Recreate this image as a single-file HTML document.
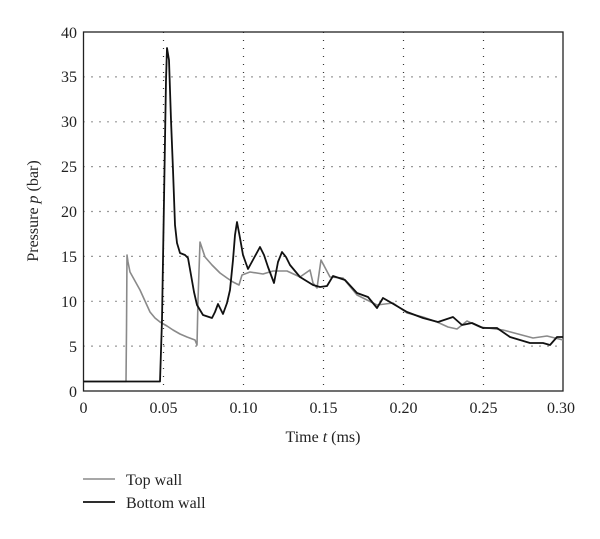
<!DOCTYPE html>
<html><head><meta charset="utf-8"><style>
html,body{margin:0;padding:0;background:#fff;}
svg text{font-family:"Liberation Serif",serif;fill:#222;}
</style></head><body>
<svg width="600" height="534" viewBox="0 0 600 534" xmlns="http://www.w3.org/2000/svg">
<rect width="600" height="534" fill="#fff"/>
<g stroke="#333" stroke-width="1.2" stroke-dasharray="1 7">
<line x1="163.5" y1="32" x2="163.5" y2="391"/>
<line x1="243.5" y1="32" x2="243.5" y2="391"/>
<line x1="323.5" y1="32" x2="323.5" y2="391"/>
<line x1="403.5" y1="32" x2="403.5" y2="391"/>
<line x1="483.5" y1="32" x2="483.5" y2="391"/>
<line x1="83.5" y1="346.1" x2="563" y2="346.1"/>
<line x1="83.5" y1="301.3" x2="563" y2="301.3"/>
<line x1="83.5" y1="256.4" x2="563" y2="256.4"/>
<line x1="83.5" y1="211.5" x2="563" y2="211.5"/>
<line x1="83.5" y1="166.6" x2="563" y2="166.6"/>
<line x1="83.5" y1="121.8" x2="563" y2="121.8"/>
<line x1="83.5" y1="76.9" x2="563" y2="76.9"/>
</g>
<rect x="83.5" y="32" width="479.5" height="359" fill="none" stroke="#222" stroke-width="1.3"/>
<polyline fill="none" stroke="#8a8a8a" stroke-width="1.6" stroke-linejoin="round" points="83.5,381.5 126,381.5 126.5,330 127,255 128,262 130,272 135,281 140,290 145,301 150,312 155,318 160,322 167,326 173,330 180,334 187,337 195,340 197,345 198,300 200,242 205,257 212,265 220,273 227,278 233,282 239,285 242,275 250,272 263,274 273,271 287,271 300,277 310,270 313,283 317,288 321,260 330,277 343,278 357,295 377,305 393,303 407,313 423,317 437,322 448,327 457,329 467,321 480,327 503,330 533,338 547,336 563,340"/>
<polyline fill="none" stroke="#111" stroke-width="1.8" stroke-linejoin="round" points="83.5,381.5 160,381.5 162,320 164,200 166,80 167,48 169,60 171,120 173,170 175,225 177,243 180,253 185,255 188,258 191,275 194,292 197,305 203,315 212,318 215,312 218,304 221,310 223,314 227,303 230,290 233,260 235,235 237,222 240,238 243,255 248,269 254,258 260,247 264,255 268,267 274,283 278,262 282,252 286,257 290,265 300,277 313,285 320,287 327,286 333,276 345,280 357,293 368,297 377,308 383,298 390,302 407,312 423,318 438,322 453,317 462,325 472,323 483,328 497,328 510,337 530,343 543,343 550,345 557,337 563,337"/>
<g font-size="16" text-anchor="end">
<text x="77" y="397">0</text><text x="77" y="352">5</text><text x="77" y="307">10</text><text x="77" y="262">15</text><text x="77" y="217">20</text><text x="77" y="172">25</text><text x="77" y="127">30</text><text x="77" y="82">35</text><text x="77" y="38">40</text>
</g>
<g font-size="16" text-anchor="middle">
<text x="83.5" y="413">0</text><text x="163.5" y="413">0.05</text><text x="243.5" y="413">0.10</text><text x="323.5" y="413">0.15</text><text x="403.5" y="413">0.20</text><text x="483.5" y="413">0.25</text><text x="561" y="413">0.30</text>
<text x="323" y="442">Time <tspan font-style="italic">t</tspan> (ms)</text>
<text transform="translate(38,211) rotate(-90)">Pressure <tspan font-style="italic">p</tspan> (bar)</text>
</g>
<line x1="83" y1="479" x2="115" y2="479" stroke="#8a8a8a" stroke-width="1.6"/>
<line x1="83" y1="502" x2="115" y2="502" stroke="#111" stroke-width="1.8"/>
<g font-size="16"><text x="126" y="485">Top wall</text><text x="126" y="508">Bottom wall</text></g>
</svg>
</body></html>
